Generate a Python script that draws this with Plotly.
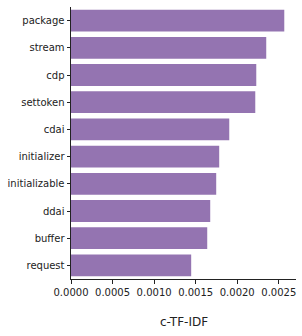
import plotly.graph_objects as go

words = ["package", "stream", "cdp", "settoken", "cdai", "initializer",
         "initializable", "ddai", "buffer", "request"]
scores = [0.002566, 0.002349, 0.002229, 0.002217, 0.001904, 0.001783,
          0.001747, 0.001675, 0.001639, 0.001446]
tick_vals = [0.0, 0.0005, 0.0010, 0.0015, 0.0020, 0.0025]
tick_text = ["0.0000", "0.0005", "0.0010", "0.0015", "0.0020", "0.0025"]
x_title = "c-TF-IDF"

fig = go.Figure(go.Bar(
    x=scores, y=words, orientation="h",
    marker=dict(color="#9474b1", line=dict(width=0)),
    width=0.8,
))

fig.update_layout(
    width=302, height=336,
    margin=dict(l=71, r=6, t=7, b=57),
    plot_bgcolor="white", paper_bgcolor="white",
    font=dict(family="DejaVu Sans", size=10, color="#222"),
    showlegend=False,
    bargap=0.2,
    annotations=[dict(
        text=x_title, xref="paper", yref="paper", x=0.5, y=-0.158,
        xanchor="center", yanchor="middle", showarrow=False,
        font=dict(size=12, family="DejaVu Sans", color="#222"),
    )],
)
fig.update_xaxes(
    range=[0, 0.002707],
    tickvals=tick_vals, ticktext=tick_text,
    showgrid=False, zeroline=False, automargin=False,
    showline=True, linecolor="#222", linewidth=1,
    ticks="outside", ticklen=3.5, tickcolor="#222", tickwidth=1,
)
fig.update_yaxes(
    categoryorder="array", categoryarray=words[::-1],
    range=[-0.5, 9.5],
    showgrid=False, zeroline=False, automargin=False,
    showline=True, linecolor="#222", linewidth=1,
    ticks="outside", ticklen=3.5, tickcolor="#222", tickwidth=1,
)

fig.write_html("out.html",
               config={"displayModeBar": False},
               post_script="document.body.style.margin='0';document.body.style.overflow='hidden';")
